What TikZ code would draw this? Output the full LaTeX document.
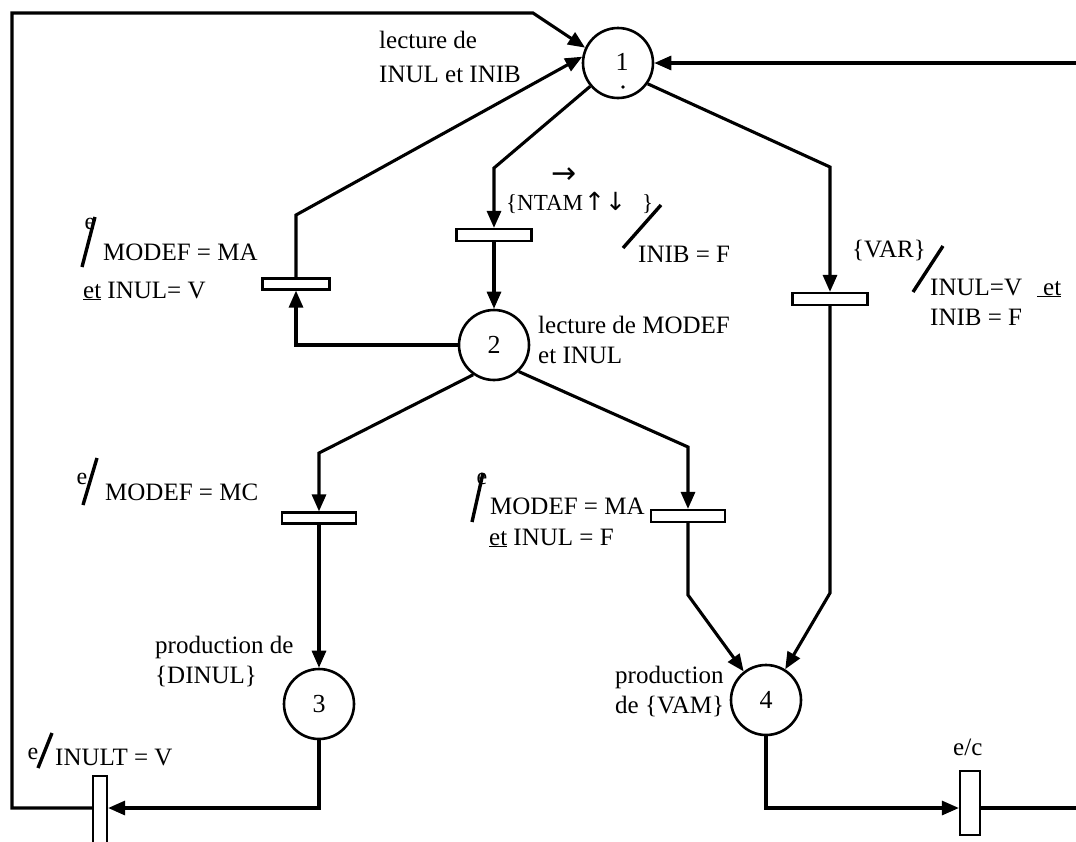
\documentclass[tikz,border=0pt]{standalone}
\usepackage{fontspec}
\setmainfont{Liberation Serif}
\newfontfamily\arrowfont{DejaVu Sans}
\usetikzlibrary{arrows.meta}
\begin{document}
\begin{tikzpicture}[x=1pt,y=-1pt,
  place/.style={circle, draw, line width=2.6pt, minimum size=70pt, inner sep=0pt, font=\fontsize{26}{30}\selectfont},
  hbar/.style={rectangle, draw, fill=white, line width=2.2pt, inner sep=0pt},
  arc/.style={line width=3.1pt, line join=miter},
  arr/.style={arc, -{Triangle[length=17pt,width=14pt]}},
  lbl/.style={anchor=base west, inner sep=0pt, font=\fontsize{25}{30}\selectfont},
  slash/.style={line width=3.4pt},
  supe/.style={inner sep=0pt, font=\fontsize{24}{28}\selectfont}]
\useasboundingbox (0,0) rectangle (1076,841);
\clip (0,0) rectangle (1076,841);

% places
\node[place] (p1) at (618,63) {};
\node[inner sep=0pt, font=\fontsize{26}{30}\selectfont] at (622,62) {1};
\node[place] (p2) at (494,345) {2};
\node[place] (p3) at (319,704) {3};
\node[place] (p4) at (766,700) {4};
\fill (623,87) circle (1.8pt);

% transitions
\node[hbar, minimum width=67pt, minimum height=11pt] (tL) at (296,284) {};
\node[hbar, minimum width=75pt, minimum height=12pt] (tN) at (494,235) {};
\node[hbar, minimum width=75pt, minimum height=12pt] (tV) at (830,299) {};
\node[hbar, minimum width=74pt, minimum height=11pt] (tC) at (319,518) {};
\node[hbar, minimum width=74pt, minimum height=12pt] (tA) at (688,516) {};
\node[hbar, minimum width=14pt, minimum height=70pt] (tI) at (100,811) {};
\node[hbar, minimum width=20pt, minimum height=64pt] (tE) at (970,803) {};

% bend points
\coordinate (bN) at (494,168);
\coordinate (bL) at (296,215);
\coordinate (bV) at (830,167);
\coordinate (bV2) at (830,593);
\coordinate (bC) at (319,453);
\coordinate (bA) at (688,447);
\coordinate (bA2) at (688,595);
\coordinate (loopBL) at (12,808);
\coordinate (loopTL) at (12,13);
\coordinate (loopTR) at (533,13);
\coordinate (rightIn) at (1076,63);
\coordinate (rightOut) at (1076,808);

% arcs
\draw[arr] (p1.220) -- (bN) -- (tN.north);
\draw[arr] (tN.south) -- (p2.north);
\draw[arr] (p2.west) -| (tL.south);
\draw[arr] (tL.north) -- (bL) -- (p1.170);
\draw[arr] (p1.-35) -- (bV) -- (tV.north);
\draw[arr] (tV.south) -- (bV2) -- (p4.58);
\draw[arr] (p2.235) -- (bC) -- (tC.north);
\draw[arr] (tC.south) -- (p3.north);
\draw[arr] (p2.-47) -- (bA) -- (tA.north);
\draw[arr] (tA.south) -- (bA2) -- (p4.128);
\draw[arr] (p3.south) |- (tI.east |- loopBL);
\draw[arr] (tI.west |- loopBL) -- (loopBL) -- (loopTL) -- (loopTR) -- (p1.155);
\draw[arr] (rightIn) -- (p1.east);
\draw[arr] (p4.south) |- (tE.west |- rightOut);
\draw[arc] (tE.east |- rightOut) -- (rightOut);

% labels
\node[lbl] at (379,48) {lecture de};
\node[lbl] at (379,82) {INUL et INIB};

\draw[slash] (82,267) -- (95,217);
\node[supe] at (90,224) {e};
\node[lbl] at (103,260) {MODEF = MA};
\node[lbl] at (83,298) {\underline{et} INUL= V};

\node[lbl, font=\fontsize{23}{26}\selectfont] at (506,210) {\{NTAM};
\node[lbl, font=\fontsize{25}{28}\arrowfont] at (584,210) {↑↓};
\node[lbl, font=\fontsize{23}{26}\selectfont] at (642,210) {\}};
\node[inner sep=0pt, font=\fontsize{30}{32}\arrowfont] at (564,176) {→};
\draw[slash] (623,248) -- (661,205);
\node[lbl] at (638,262) {INIB = F};

\node[lbl] at (538,333) {lecture de MODEF};
\node[lbl] at (538,363) {et INUL};

\node[lbl] at (852,257) {\{VAR\}};
\draw[slash] (913,292) -- (943,246);
\node[lbl] at (930,295) {INUL=V};
\node[lbl] at (1037,295) {\underline{\kern6pt et}};
\node[lbl] at (930,325) {INIB = F};

\node[supe] at (82,479) {e};
\draw[slash] (83,505) -- (97,458);
\node[lbl] at (105,500) {MODEF = MC};

\draw[slash] (472,522) -- (483,473);
\node[supe] at (482,479) {e};
\node[lbl] at (490,514) {MODEF = MA};
\node[lbl] at (489,545) {\underline{et} INUL = F};

\node[lbl] at (155,653) {production de};
\node[lbl] at (155,683) {\{DINUL\}};
\node[lbl] at (615,683) {production};
\node[lbl] at (615,713) {de \{VAM\}};

\node[supe] at (33,754) {e};
\draw[slash] (38,768) -- (52,733);
\node[lbl] at (55,765) {INULT = V};

\node[lbl] at (953,755) {e/c};
\end{tikzpicture}
\end{document}
